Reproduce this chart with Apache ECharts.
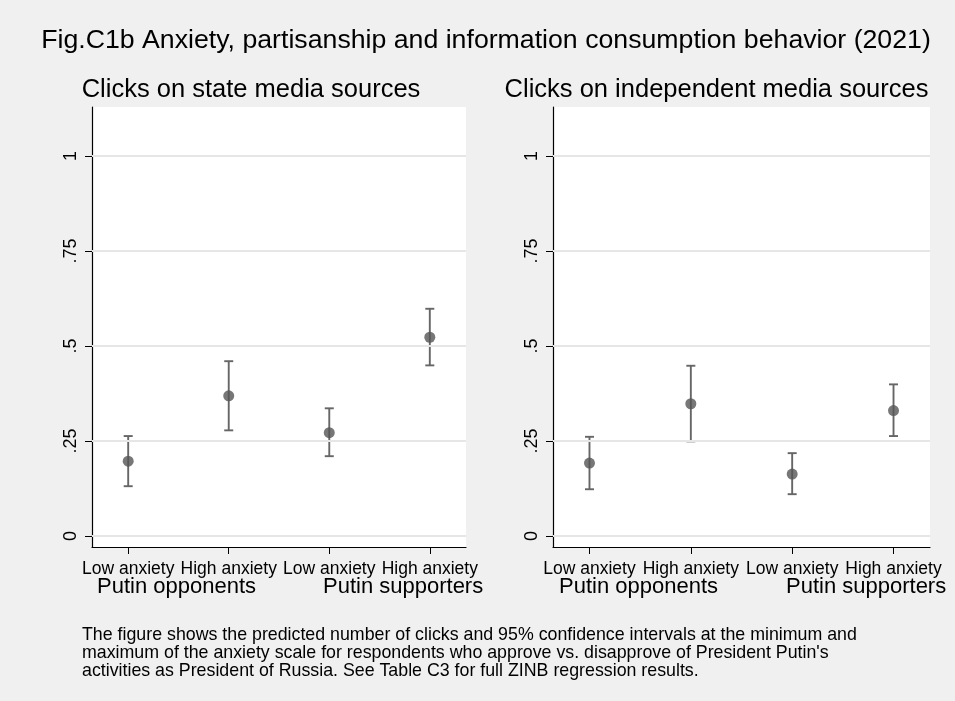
<!DOCTYPE html>
<html>
<head>
<meta charset="utf-8">
<script src="https://cdn.jsdelivr.net/npm/echarts@6/dist/echarts.min.js"></script>
<style>
  html, body { margin: 0; padding: 0; background: #f0f0f0; }
  #chart { width: 955px; height: 701px; }
</style>
</head>
<body>
<div id="chart"></div>
<script>
// Category positions along the x axis and their tick labels
const categoryPos = [1, 2, 3, 4];
const categoryLabels = ['Low anxiety', 'High anxiety', 'Low anxiety', 'High anxiety'];
const groupLabels = ['Putin opponents', 'Putin supporters'];

// Predicted clicks on state media sources, with 95% CI
const stateEst = [0.197, 0.369, 0.272, 0.523];
const stateLo  = [0.131, 0.278, 0.210, 0.449];
const stateHi  = [0.263, 0.460, 0.336, 0.598];

// Predicted clicks on independent media sources, with 95% CI
const indepEst = [0.192, 0.348, 0.163, 0.330];
const indepLo  = [0.123, 0.249, 0.110, 0.263];
const indepHi  = [0.261, 0.448, 0.218, 0.399];

// Y-axis tick values and labels
const yTicks = [0, 0.25, 0.5, 0.75, 1];
const yTickLabels = ['0', '.25', '.5', '.75', '1'];

const FONT = 'Liberation Sans, Arial, sans-serif';
const AXIS_COLOR = '#000';
const GRID_COLOR = '#e6e6e6';
const MARKER_COLOR = '#555555';
const BAR_COLOR = '#666666';

const chart = echarts.init(document.getElementById('chart'), null, { renderer: 'canvas' });

function xAxisFor(gridIndex) {
  return {
    type: 'value', gridIndex: gridIndex, min: 0.64, max: 4.36,
    axisLine: { show: true, onZero: false, lineStyle: { color: AXIS_COLOR, width: 1.2 } },
    axisTick: { show: true, customValues: categoryPos, length: 7, lineStyle: { color: AXIS_COLOR } },
    axisLabel: {
      show: true, customValues: categoryPos, margin: 13,
      color: '#000', fontFamily: FONT, fontSize: 17.5,
      formatter: function (v) { return categoryLabels[Math.round(v) - 1]; }
    },
    splitLine: { show: false }
  };
}

function yAxisFor(gridIndex) {
  return {
    type: 'value', gridIndex: gridIndex, min: -0.029, max: 1.129,
    axisLine: { show: true, onZero: false, lineStyle: { color: AXIS_COLOR, width: 1.2 } },
    axisTick: { show: true, customValues: yTicks, length: 7, lineStyle: { color: AXIS_COLOR } },
    axisLabel: {
      show: true, customValues: yTicks, rotate: 90, margin: 12,
      color: '#000', fontFamily: FONT, fontSize: 18,
      formatter: function (v) {
        const i = yTicks.findIndex(function (t) { return Math.abs(t - v) < 1e-6; });
        return i >= 0 ? yTickLabels[i] : '';
      }
    },
    splitLine: { show: false }
  };
}

function gridLines(xi, yi) {
  return {
    type: 'line', xAxisIndex: xi, yAxisIndex: yi, data: [], silent: true, z: 1,
    markLine: {
      silent: true, symbol: 'none', label: { show: false },
      lineStyle: { color: GRID_COLOR, width: 1.8, type: 'solid' },
      data: yTicks.map(function (t) { return { yAxis: t }; })
    }
  };
}

function errorBars(xi, yi, lo, hi) {
  return {
    type: 'custom', xAxisIndex: xi, yAxisIndex: yi, z: 3,
    data: categoryPos.map(function (x, i) { return [x, lo[i], hi[i]]; }),
    renderItem: function (params, api) {
      const pLo = api.coord([api.value(0), api.value(1)]);
      const pHi = api.coord([api.value(0), api.value(2)]);
      const cap = 4.5;
      const style = { stroke: BAR_COLOR, lineWidth: 1.9 };
      return {
        type: 'group',
        children: [
          { type: 'line', shape: { x1: pLo[0], y1: pLo[1], x2: pHi[0], y2: pHi[1] }, style: style },
          { type: 'line', shape: { x1: pLo[0] - cap, y1: pLo[1], x2: pLo[0] + cap, y2: pLo[1] }, style: style },
          { type: 'line', shape: { x1: pHi[0] - cap, y1: pHi[1], x2: pHi[0] + cap, y2: pHi[1] }, style: style }
        ]
      };
    }
  };
}

function points(xi, yi, est) {
  return {
    type: 'scatter', xAxisIndex: xi, yAxisIndex: yi, z: 4,
    symbol: 'circle', symbolSize: 11,
    itemStyle: { color: MARKER_COLOR },
    data: categoryPos.map(function (x, i) { return [x, est[i]]; })
  };
}

const noteLines = [
  'The figure shows the predicted number of clicks and 95% confidence intervals at the minimum and',
  "maximum of the anxiety scale for respondents who approve vs. disapprove of President Putin's",
  'activities as President of Russia. See Table C3 for full ZINB regression results.'
];

chart.setOption({
  backgroundColor: '#f0f0f0',
  animation: false,
  title: [
    { text: 'Fig.C1b Anxiety, partisanship and information consumption behavior (2021)',
      left: 481, top: 22, textAlign: 'center',
      textStyle: { fontFamily: FONT, fontSize: 26.7, fontWeight: 'normal', color: '#000' } },
    { text: 'Clicks on state media sources',
      left: 246, top: 72, textAlign: 'center',
      textStyle: { fontFamily: FONT, fontSize: 25.5, fontWeight: 'normal', color: '#000' } },
    { text: 'Clicks on independent media sources',
      left: 711.5, top: 72, textAlign: 'center',
      textStyle: { fontFamily: FONT, fontSize: 25.5, fontWeight: 'normal', color: '#000' } }
  ],
  grid: [
    { left: 92, top: 107, width: 374, height: 440, show: true, backgroundColor: '#fff', borderWidth: 0 },
    { left: 553, top: 107, width: 377, height: 440, show: true, backgroundColor: '#fff', borderWidth: 0 }
  ],
  xAxis: [xAxisFor(0), xAxisFor(1)],
  yAxis: [yAxisFor(0), yAxisFor(1)],
  series: [
    gridLines(0, 0), gridLines(1, 1),
    errorBars(0, 0, stateLo, stateHi), errorBars(1, 1, indepLo, indepHi),
    points(0, 0, stateEst), points(1, 1, indepEst)
  ],
  graphic: [
    { type: 'text', left: 97, top: 576, style: { text: groupLabels[0], font: '22px ' + FONT, fill: '#000' } },
    { type: 'text', left: 323, top: 576, style: { text: groupLabels[1], font: '22px ' + FONT, fill: '#000' } },
    { type: 'text', left: 559, top: 576, style: { text: groupLabels[0], font: '22px ' + FONT, fill: '#000' } },
    { type: 'text', left: 786, top: 576, style: { text: groupLabels[1], font: '22px ' + FONT, fill: '#000' } },
    { type: 'text', left: 82, top: 626,
      style: { text: noteLines.join('\n'), font: '17.8px ' + FONT, lineHeight: 18, fill: '#000' } }
  ]
});
</script>
</body>
</html>
